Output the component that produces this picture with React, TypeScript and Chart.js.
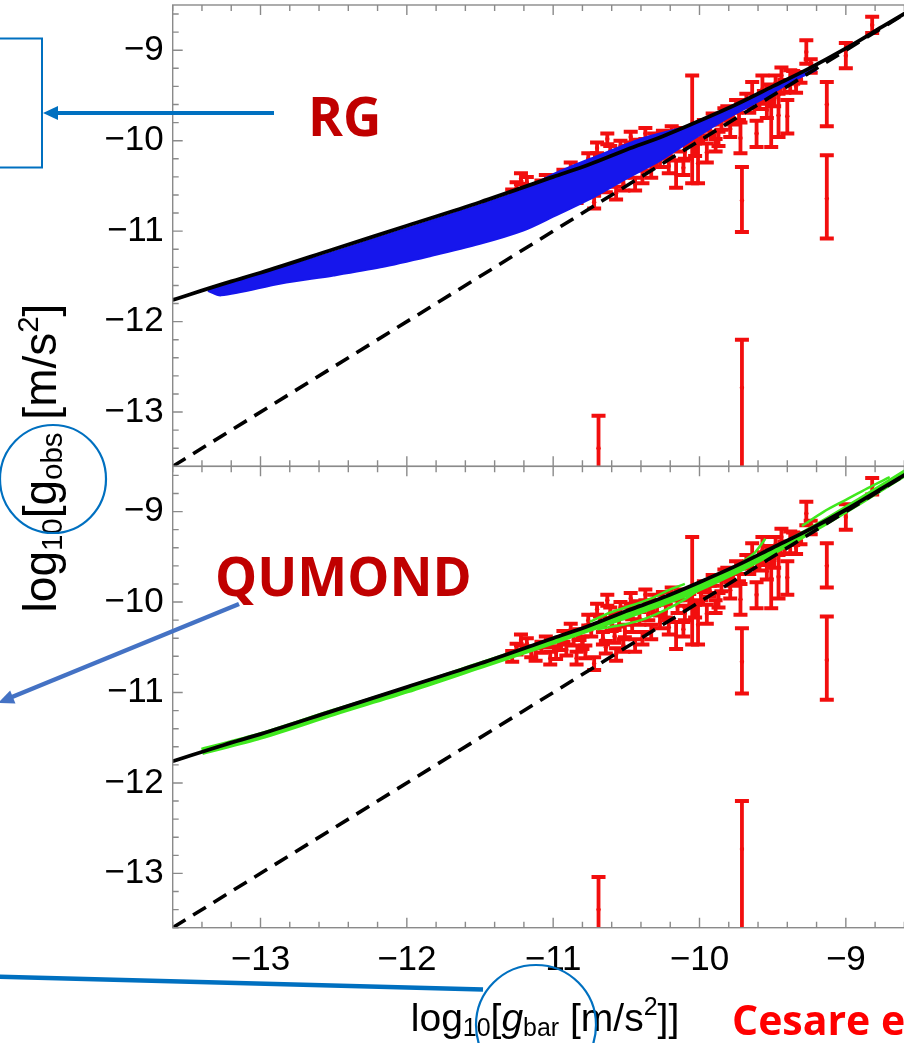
import React, { useEffect, useRef } from "react";
import { Chart, registerables } from "chart.js";

Chart.register(...registerables);

// ---------- axes ----------
const xRange = [-13.6, -8.5];
const yRange = [-13.6, -8.5];
const xTickValues = [-13, -12, -11, -10, -9];
const yTickValues = [-13, -12, -11, -10, -9];

// ---------- black RAR curve ----------
const rarX = [-13.6, -13.25, -13.0, -12.5, -12.0, -11.5, -11.0, -10.75, -10.5, -10.25, -10.0, -9.75, -9.5, -9.25, -9.0, -8.75, -8.5];
const rarY = [-11.76, -11.58, -11.46, -11.2, -10.94, -10.68, -10.4, -10.26, -10.1, -9.95, -9.78, -9.6, -9.4, -9.2, -8.98, -8.74, -8.5];

// ---------- dashed 1:1 line ----------
const unityX = [-13.6, -8.5];
const unityY = [-13.6, -8.5];

// ---------- RG (blue band) ----------
const rgUpperX = [-13.36, -13.2, -13.0, -12.5, -12.0, -11.5, -11.2, -11.0, -10.7, -10.4, -10.15, -10.0, -9.75, -9.5, -9.2];
const rgUpperY = [-11.64, -11.57, -11.48, -11.23, -10.97, -10.71, -10.54, -10.37, -10.17, -9.98, -9.87, -9.8, -9.62, -9.43, -9.17];
const rgLowerX = [-13.36, -13.27, -12.86, -12.5, -12.18, -11.85, -11.5, -11.2, -11.0, -10.72, -10.49, -10.27, -10.04, -9.81, -9.58, -9.36, -9.2];
const rgLowerY = [-11.66, -11.71, -11.58, -11.49, -11.4, -11.28, -11.14, -10.99, -10.84, -10.62, -10.41, -10.22, -9.98, -9.75, -9.55, -9.34, -9.22];

// ---------- QUMOND (green curves) ----------
const qmMainX = [-13.4, -13.0, -12.5, -12.0, -11.5, -11.0, -10.7, -10.4, -10.1, -9.8, -9.5, -9.2, -8.9, -8.5];
const qmMainY = [-11.65, -11.48, -11.22, -10.97, -10.7, -10.43, -10.26, -10.09, -9.91, -9.69, -9.44, -9.17, -8.88, -8.48];
const qmUpX = [-10.75, -10.6, -10.45, -10.33, -10.2, -10.1];
const qmUpY = [-10.22, -10.11, -10.03, -9.96, -9.86, -9.8];
const qmLowX = [-10.7, -10.55, -10.4, -10.25, -10.1, -10.0];
const qmLowY = [-10.3, -10.26, -10.2, -10.1, -9.97, -9.86];
const qmTipX = [-9.3, -9.15, -9.0, -8.85, -8.7];
const qmTipY = [-9.16, -9.0, -8.87, -8.74, -8.62];
const qmSpikeX = [-9.7, -9.62, -9.55];
const qmSpikeY = [-9.55, -9.45, -9.3];

// ---------- observed data with error bars ----------
const obsX = [
  -11.28, -11.25, -11.22, -11.18, -11.15, -11.12, -11.08, -11.05, -11.02, -10.98, -10.96, -10.93, -10.91,
  -10.88, -10.86, -10.84, -10.82, -10.8, -10.78, -10.76, -10.74, -10.72, -10.7, -10.68, -10.66, -10.64, -10.63,
  -10.61, -10.6, -10.58, -10.57, -10.55, -10.54, -10.52, -10.51, -10.49, -10.47, -10.46, -10.44, -10.42, -10.41,
  -10.39, -10.37, -10.35, -10.33, -10.31, -10.29, -10.27, -10.25, -10.23, -10.21, -10.19, -10.16, -10.15, -10.13,
  -10.11, -10.1, -10.07, -10.05, -10.03, -10.01, -9.99, -9.97, -9.95, -9.93, -9.91, -9.89, -9.87, -9.85, -9.83,
  -9.81, -9.79, -9.77, -9.75, -9.73, -9.72, -9.71, -9.71, -9.68, -9.66, -9.64, -9.61, -9.59, -9.57, -9.56, -9.54,
  -9.52, -9.51, -9.49, -9.48, -9.46, -9.44, -9.42, -9.4, -9.38, -9.36, -9.34, -9.31, -9.27, -9.24, -9.13, -9.13,
  -9.0, -8.82, -10.69,
];
const obsY = [
  -10.6, -10.52, -10.42, -10.46, -10.55, -10.58, -10.5, -10.44, -10.62, -10.56, -10.47, -10.38, -10.53,
  -10.3, -10.42, -10.62, -10.36, -10.45, -10.55, -10.2, -10.32, -10.68, -10.08, -10.22, -10.4, -10.5, -9.98,
  -10.12, -10.25, -10.38, -10.58, -10.2, -10.06, -10.48, -10.32, -10.12, -9.96, -10.26, -10.48, -10.05, -10.18,
  -10.4, -9.92, -10.14, -10.33, -9.98, -10.05, -10.22, -9.95, -10.1, -10.28, -9.9, -10.37, -10.05, -9.92,
  -10.3, -10.12, -9.98, -9.86, -10.1, -10.25, -9.92, -9.83, -10.13, -9.88, -9.76, -10.05, -9.98, -9.82, -9.7,
  -9.68, -9.87, -9.75, -9.62, -9.7, -9.97, -10.66, -12.73, -9.55, -9.62, -9.49, -9.92, -9.58, -9.43, -9.52, -9.66,
  -9.45, -9.74, -9.55, -9.36, -9.72, -9.28, -9.4, -9.73, -9.34, -9.3, -9.4, -9.3, -9.02, -9.17, -9.6, -10.64,
  -9.06, -8.72, -13.4,
];
const obsLo = [
  -10.66, -10.58, -10.48, -10.52, -10.61, -10.65, -10.56, -10.5, -10.69, -10.63, -10.53, -10.44, -10.59,
  -10.36, -10.48, -10.69, -10.42, -10.52, -10.62, -10.26, -10.38, -10.75, -10.14, -10.28, -10.47, -10.57, -10.04,
  -10.18, -10.32, -10.45, -10.65, -10.27, -10.12, -10.55, -10.39, -10.18, -10.02, -10.33, -10.55, -10.11, -10.25,
  -10.47, -9.98, -10.2, -10.41, -10.04, -10.12, -10.29, -10.01, -10.17, -10.36, -9.96, -10.52, -10.12, -9.98,
  -10.38, -10.2, -10.05, -10.47, -10.17, -10.47, -9.98, -9.89, -10.24, -9.94, -9.82, -10.12, -10.06, -9.88, -9.76,
  -9.74, -9.96, -9.82, -9.69, -9.77, -10.14, -11.01, -13.9, -9.62, -9.69, -9.63, -10.07, -9.65, -9.59, -9.59, -9.75,
  -9.52, -10.07, -9.62, -9.44, -9.96, -9.37, -9.47, -9.92, -9.46, -9.37, -9.47, -9.36, -9.15, -9.25, -9.84, -11.08,
  -9.2, -8.81, -13.9,
];
const obsHi = [
  -10.54, -10.46, -10.36, -10.4, -10.49, -10.51, -10.44, -10.38, -10.55, -10.49, -10.41, -10.32, -10.47,
  -10.24, -10.36, -10.55, -10.3, -10.38, -10.48, -10.14, -10.26, -10.61, -10.02, -10.16, -10.33, -10.43, -9.92,
  -10.06, -10.18, -10.31, -10.51, -10.13, -10.0, -10.41, -10.25, -10.06, -9.9, -10.19, -10.41, -9.99, -10.11,
  -10.33, -9.86, -10.08, -10.25, -9.92, -9.98, -10.15, -9.89, -10.03, -10.2, -9.84, -10.22, -9.98, -9.86,
  -10.22, -10.04, -9.91, -9.28, -10.03, -10.02, -9.86, -9.77, -10.03, -9.82, -9.7, -9.98, -9.9, -9.76, -9.64,
  -9.62, -9.78, -9.68, -9.55, -9.63, -9.8, -10.29, -12.2, -9.48, -9.55, -9.35, -9.78, -9.51, -9.28, -9.45, -9.57,
  -9.38, -9.41, -9.48, -9.28, -9.48, -9.19, -9.33, -9.55, -9.22, -9.23, -9.33, -9.24, -8.89, -9.1, -9.35, -10.16,
  -8.92, -8.63, -13.04,
];

// ---------- colours ----------
const RED = "rgb(242,14,14)";
const BLUE = "rgb(22,22,236)";
const GREEN = "rgb(64,232,30)";
const FRAME = "#8a8a8a";
const ANNOT = "#0070C0";

// canvas is shifted up by this many px so the plot frame lands where the reference has it
const SHIFT = 6;

const pts = (xs: number[], ys: number[]) => xs.map((x, i) => ({ x, y: ys[i] }));
const minus = (v: number) => (v < 0 ? "\u2212" + Math.abs(v) : String(v));

type Seg = { t: string; sub?: boolean; sup?: boolean; italic?: boolean };

function segFont(s: Seg, size: number, family: string) {
  const fs = s.sub || s.sup ? size * 0.64 : size;
  return `${s.italic ? "italic " : ""}${fs}px ${family}`;
}
function richWidth(ctx: CanvasRenderingContext2D, segs: Seg[], size: number, family: string) {
  let w = 0;
  for (const s of segs) {
    ctx.font = segFont(s, size, family);
    w += ctx.measureText(s.t).width;
  }
  return w;
}
function drawRich(ctx: CanvasRenderingContext2D, segs: Seg[], x: number, y: number, size: number, family: string) {
  let cx = x;
  for (const s of segs) {
    ctx.font = segFont(s, size, family);
    const dy = s.sub ? size * 0.14 : s.sup ? -size * 0.4 : 0;
    ctx.fillText(s.t, cx, y + dy);
    cx += ctx.measureText(s.t).width;
  }
}

const yTitle: Seg[] = [{ t: "log" }, { t: "10", sub: true }, { t: "[" }, { t: "g" }, { t: "obs", sub: true }, { t: " [m/s" }, { t: "2", sup: true }, { t: "]" }];
const xTitle: Seg[] = [{ t: "log" }, { t: "10", sub: true }, { t: "[" }, { t: "g", italic: true }, { t: "bar", sub: true }, { t: " [m/s" }, { t: "2", sup: true }, { t: "]]" }];

const FAMILY = '"Liberation Sans", Arial, sans-serif';

const decorPlugin = {
  id: "decor",
  afterDatasetsDraw(chart: any) {
    const ctx: CanvasRenderingContext2D = chart.ctx;
    const xs = chart.scales.x;
    ctx.save();
    ctx.strokeStyle = FRAME;
    ctx.lineWidth = 1.4;
    for (const id of ["yTop", "yBot"]) {
      const ys = chart.scales[id];
      const L = xs.left, R = xs.right, T = ys.top, B = ys.bottom;
      ctx.strokeRect(L, T, R - L, B - T);
      ctx.beginPath();
      const nx = Math.round((xRange[1] - xRange[0]) / 0.2);
      for (let k = 0; k <= nx; k++) {
        const v = xRange[0] + k * 0.2;
        const major = Math.abs(v - Math.round(v)) < 1e-6;
        const len = major ? 10 : 6;
        const px = xs.getPixelForValue(v);
        ctx.moveTo(px, T);
        ctx.lineTo(px, T + len);
        ctx.moveTo(px, B);
        ctx.lineTo(px, B - len);
      }
      const ny = Math.round((yRange[1] - yRange[0]) / 0.2);
      for (let k = 0; k <= ny; k++) {
        const v = yRange[0] + k * 0.2;
        const major = Math.abs(v - Math.round(v)) < 1e-6;
        const len = major ? 10 : 6;
        const py = ys.getPixelForValue(v);
        ctx.moveTo(L, py);
        ctx.lineTo(L + len, py);
      }
      ctx.stroke();
    }
    ctx.restore();
  },
  afterDraw(chart: any) {
    const ctx: CanvasRenderingContext2D = chart.ctx;
    ctx.save();
    ctx.translate(0, SHIFT);
    // axis titles
    ctx.fillStyle = "#000";
    ctx.textBaseline = "alphabetic";
    const ySize = 46;
    const yw = richWidth(ctx, yTitle, ySize, FAMILY);
    ctx.save();
    ctx.translate(56, 458);
    ctx.rotate(-Math.PI / 2);
    drawRich(ctx, yTitle, -yw / 2, 0, ySize, FAMILY);
    ctx.restore();
    const xSize = 39;
    const xw = richWidth(ctx, xTitle, xSize, FAMILY);
    drawRich(ctx, xTitle, 545 - xw / 2, 1031, xSize, FAMILY);

    // labels
    ctx.fillStyle = "#C00000";
    ctx.font = 'bold 53px "Open Sans", sans-serif';
    ctx.fillText("RG", 308, 136);
    ctx.fillText("QUMOND", 215, 596);
    ctx.fillStyle = "#FF0000";
    ctx.font = 'bold 41px "Open Sans", sans-serif';
    ctx.fillText("Cesare et al.", 732, 1035);

    // RG box and arrow
    ctx.strokeStyle = ANNOT;
    ctx.lineWidth = 2;
    ctx.strokeRect(-5, 38.5, 47, 129);
    ctx.lineWidth = 4;
    ctx.beginPath();
    ctx.moveTo(274, 113);
    ctx.lineTo(54, 113);
    ctx.stroke();
    ctx.fillStyle = ANNOT;
    ctx.beginPath();
    ctx.moveTo(43, 113);
    ctx.lineTo(58, 106);
    ctx.lineTo(58, 120);
    ctx.closePath();
    ctx.fill();

    // QUMOND arrow
    ctx.strokeStyle = "#4472C4";
    ctx.fillStyle = "#4472C4";
    ctx.lineWidth = 4.5;
    ctx.beginPath();
    ctx.moveTo(239, 604);
    ctx.lineTo(12, 697);
    ctx.stroke();
    ctx.beginPath();
    const ang = Math.atan2(697 - 604, 12 - 239);
    const tipX = -2, tipY = 703;
    ctx.moveTo(tipX, tipY);
    ctx.lineTo(tipX - 16 * Math.cos(ang) + 7 * Math.sin(ang), tipY - 16 * Math.sin(ang) - 7 * Math.cos(ang));
    ctx.lineTo(tipX - 16 * Math.cos(ang) - 7 * Math.sin(ang), tipY - 16 * Math.sin(ang) + 7 * Math.cos(ang));
    ctx.closePath();
    ctx.fill();

    // circles
    ctx.strokeStyle = ANNOT;
    ctx.lineWidth = 2.2;
    ctx.beginPath();
    ctx.ellipse(53, 479, 53, 54, 0, 0, Math.PI * 2);
    ctx.stroke();
    ctx.beginPath();
    ctx.ellipse(536, 1025, 60, 60, 0, 0, Math.PI * 2);
    ctx.stroke();

    // bottom pointer line
    ctx.lineWidth = 4.5;
    ctx.beginPath();
    ctx.moveTo(-5, 976.5);
    ctx.lineTo(483, 989.5);
    ctx.stroke();
    ctx.restore();
  },
};

function panelDatasets(yAxisID: string) {
  const errSegments: any[] = obsX.flatMap((x, i) => [{ x, y: obsLo[i] }, { x, y: obsHi[i] }, { x, y: null }]);
  const errCaps = obsX.flatMap((x, i) => [{ x, y: obsLo[i] }, { x, y: obsHi[i] }]);
  const errCenters = pts(obsX, obsY);
  return [
    {
      label: "RAR",
      data: pts(rarX, rarY),
      yAxisID,
      showLine: true,
      borderColor: "#000",
      borderWidth: 3.8,
      pointRadius: 0,
      cubicInterpolationMode: "monotone",
      order: 0,
    },
    {
      label: "1:1",
      data: pts(unityX, unityY),
      yAxisID,
      showLine: true,
      borderColor: "#000",
      borderWidth: 3.6,
      borderDash: [15, 9],
      pointRadius: 0,
      order: 0,
    },
    {
      label: "error bars",
      data: errSegments,
      yAxisID,
      showLine: true,
      spanGaps: false,
      borderColor: RED,
      borderWidth: 3.8,
      pointRadius: 0,
      order: 5,
    },
    {
      label: "caps",
      data: errCaps,
      yAxisID,
      showLine: false,
      pointStyle: "line",
      pointRadius: 7,
      pointBorderWidth: 4,
      pointBorderColor: RED,
      pointBackgroundColor: RED,
      order: 5,
    },
    {
      label: "centers",
      data: errCenters,
      yAxisID,
      showLine: false,
      pointRadius: 2.2,
      pointBorderWidth: 0,
      pointBackgroundColor: RED,
      order: 5,
    },
  ];
}

const greenLine = (label: string, xs: number[], ys: number[], w: number) => ({
  label,
  data: pts(xs, ys),
  yAxisID: "yBot",
  showLine: true,
  borderColor: GREEN,
  borderWidth: w,
  pointRadius: 0,
  tension: 0.3,
  order: 2,
});

export default function App() {
  const ref = useRef<HTMLCanvasElement | null>(null);
  useEffect(() => {
    if (!ref.current) return;
    const datasets: any[] = [
      ...panelDatasets("yTop"),
      {
        label: "RG upper",
        data: pts(rgUpperX, rgUpperY),
        yAxisID: "yTop",
        showLine: true,
        borderColor: BLUE,
        borderWidth: 2,
        pointRadius: 0,
        tension: 0.3,
        order: 2,
      },
      {
        label: "RG lower",
        data: pts(rgLowerX, rgLowerY),
        yAxisID: "yTop",
        showLine: true,
        borderColor: BLUE,
        backgroundColor: BLUE,
        borderWidth: 2,
        pointRadius: 0,
        tension: 0.3,
        fill: "-1",
        order: 2,
      },
      ...panelDatasets("yBot"),
      greenLine("QUMOND", qmMainX, qmMainY, 7.5),
      greenLine("QUMOND up", qmUpX, qmUpY, 2.5),
      greenLine("QUMOND low", qmLowX, qmLowY, 2.5),
      greenLine("QUMOND tip", qmTipX, qmTipY, 2.5),
      greenLine("QUMOND spike", qmSpikeX, qmSpikeY, 2.5),
    ];
    const tickFont = { family: FAMILY, size: 35 };
    const yScale = (weight: number) => ({
      type: "linear",
      position: "left",
      stack: "panels",
      stackWeight: 1,
      weight,
      min: yRange[0],
      max: yRange[1],
      grid: { display: false, drawTicks: false },
      border: { display: false },
      afterBuildTicks: (s: any) => {
        s.ticks = yTickValues.map((v) => ({ value: v }));
      },
      afterFit: (s: any) => {
        s.width = 172.7;
        s.paddingTop = 0;
        s.paddingBottom = 0;
        s.paddingLeft = 0;
        s.paddingRight = 0;
      },
      ticks: {
        font: tickFont,
        color: "#000",
        padding: 9,
        autoSkip: false,
        callback: (v: any) => minus(Number(v)),
      },
    });
    const chart = new Chart(ref.current, {
      type: "scatter",
      data: { datasets },
      options: {
        animation: false,
        responsive: false,
        devicePixelRatio: 1,
        events: [],
        layout: { padding: { left: 0, top: 5, right: 11, bottom: 0 } },
        plugins: { legend: { display: false }, tooltip: { enabled: false } },
        scales: {
          x: {
            type: "linear",
            position: "bottom",
            min: xRange[0],
            max: xRange[1],
            grid: { display: false, drawTicks: false },
            border: { display: false },
            afterBuildTicks: (s: any) => {
              s.ticks = xTickValues.map((v) => ({ value: v }));
            },
            afterFit: (s: any) => {
              s.height = 115.3;
              s.paddingLeft = 0;
              s.paddingRight = 0;
              s.paddingTop = 0;
              s.paddingBottom = 0;
            },
            ticks: {
              font: tickFont,
              color: "#000",
              padding: 12,
              maxRotation: 0,
              autoSkip: false,
              callback: (v: any) => minus(Number(v)),
            },
          },
          yTop: yScale(1),
          yBot: yScale(0),
        } as any,
      },
      plugins: [decorPlugin],
    } as any);
    return () => chart.destroy();
  }, []);
  return (
    <div style={{ position: "absolute", left: 0, top: 0, width: 904, height: 1043, overflow: "hidden", background: "#fff" }}>
      <canvas
        ref={ref}
        width={930}
        height={1043 + SHIFT}
        style={{ display: "block", width: 930, height: 1043 + SHIFT, marginTop: -SHIFT }}
      />
    </div>
  );
}
